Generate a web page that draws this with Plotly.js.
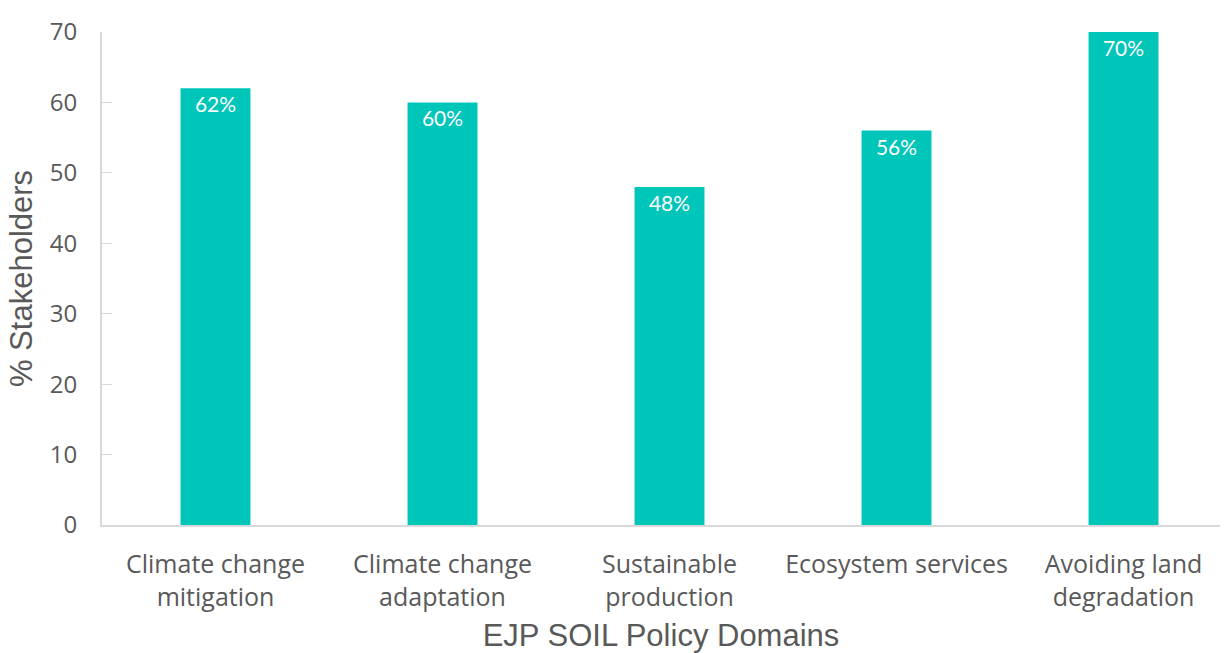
<!DOCTYPE html>
<html>
<head>
<meta charset="utf-8">
<script src="https://cdn.plot.ly/plotly-3.0.1.min.js"></script>
<style>html,body{margin:0;padding:0;background:#fff;}#chart{width:1224px;height:653px;}</style>
</head>
<body>
<div id="chart"></div>
<script>
const categories = ["Climate change<br>mitigation", "Climate change<br>adaptation", "Sustainable<br>production", "Ecosystem services", "Avoiding land<br>degradation"];
const values = [62, 60, 48, 56, 70];
const labels = ["62%", "60%", "48%", "56%", "70%"];
const yTicks = [0, 10, 20, 30, 40, 50, 60, 70];

const trace = {
  type: 'bar',
  x: categories,
  y: values,
  text: labels,
  textposition: 'inside',
  insidetextanchor: 'end',
  textangle: 0,
  textfont: {family: 'Lato', size: 21, color: '#ffffff'},
  marker: {color: '#00C5B9'},
  hoverinfo: 'none',
  cliponaxis: false
};

const layout = {
  width: 1224, height: 653,
  margin: {l: 102, r: 4, t: 32, b: 128},
  paper_bgcolor: '#ffffff', plot_bgcolor: '#ffffff',
  bargap: 0.692,
  showlegend: false,
  xaxis: {
    range: [-0.5, 4.425],
    showline: true, linecolor: '#d9d9d9', linewidth: 2,
    ticks: '', showgrid: false,
    ticklabelstandoff: 16,
    tickfont: {family: 'Open Sans', size: 25, color: '#595959'},
    title: {text: 'EJP SOIL Policy Domains', font: {family: 'Liberation Sans', size: 31, color: '#595959'}, standoff: 16},
    automargin: false
  },
  yaxis: {
    range: [0, 70], tickvals: yTicks, ticktext: yTicks.map(String),
    showline: true, linecolor: '#d9d9d9', linewidth: 2,
    ticks: 'inside', ticklen: 10, tickcolor: '#d9d9d9', tickwidth: 1,
    showgrid: false, zeroline: false,
    ticklabelstandoff: 18,
    tickfont: {family: 'Open Sans', size: 24, color: '#595959'},
    title: {text: '% Stakeholders', font: {family: 'Liberation Sans', size: 31, color: '#595959'}, standoff: 8},
    automargin: false
  }
};

Plotly.newPlot('chart', [trace], layout, {displayModeBar: false, staticPlot: true});
</script>
</body>
</html>
